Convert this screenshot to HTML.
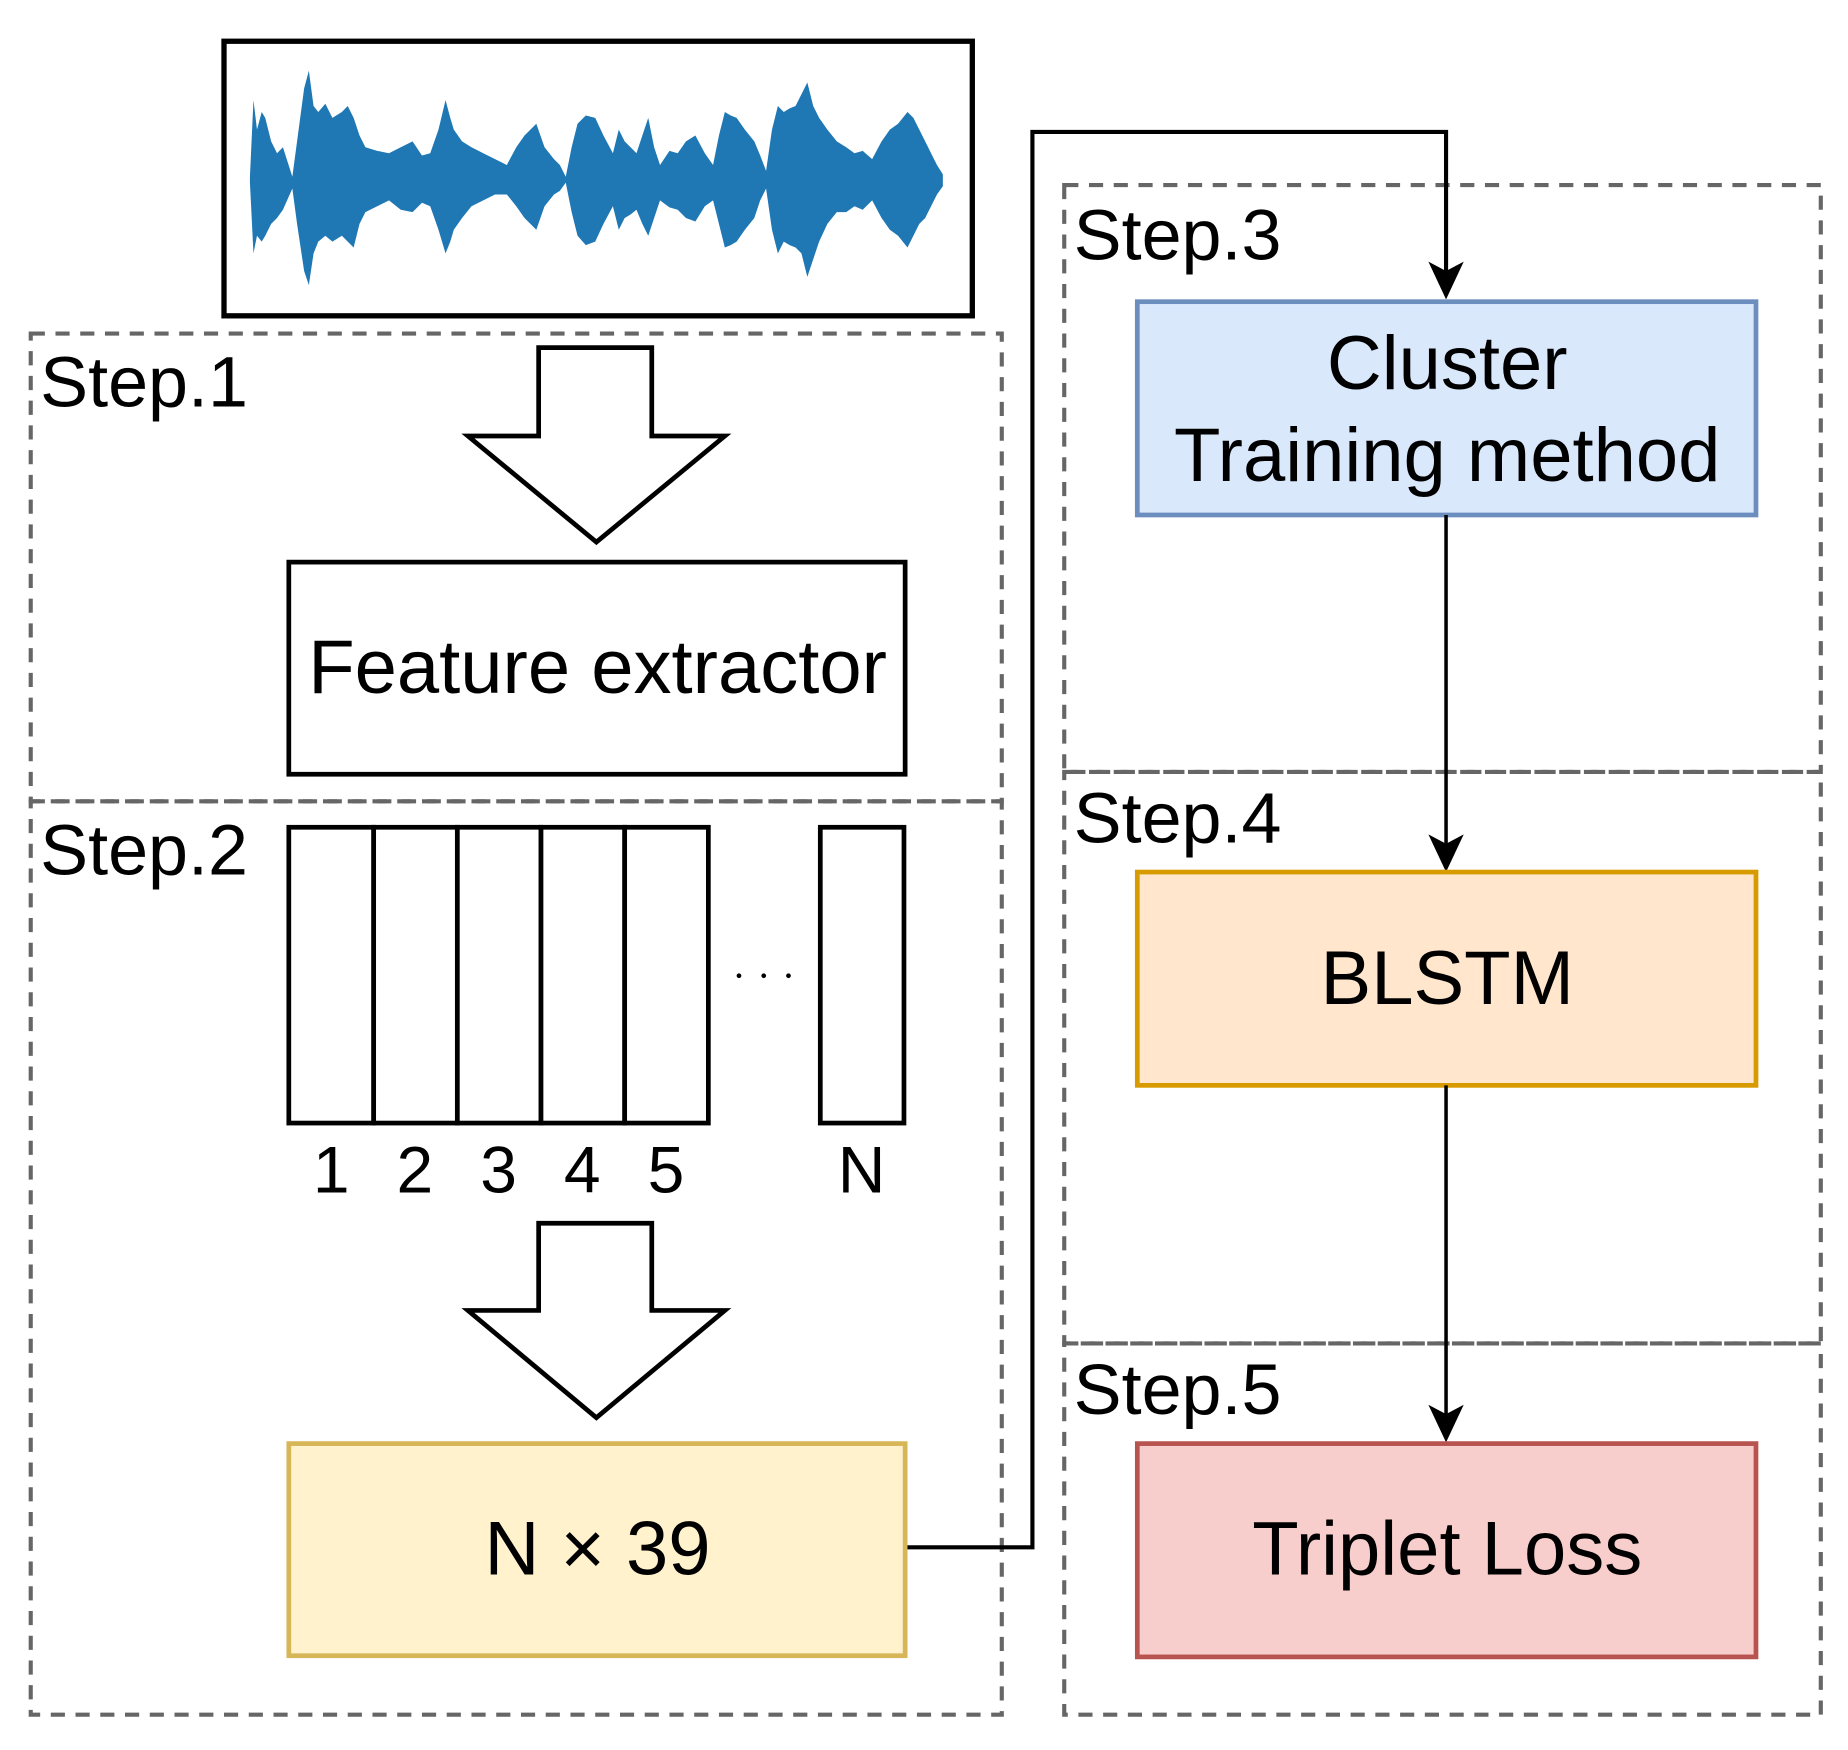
<!DOCTYPE html>
<html><head><meta charset="utf-8"><style>
html,body{margin:0;padding:0;background:#fff;}
svg{display:block;}
text{font-family:"Liberation Sans",Arial,sans-serif;fill:#000;}
</style></head><body>
<svg width="1848" height="1750" viewBox="0 0 1568 1485" xmlns="http://www.w3.org/2000/svg">
<g fill="none" stroke="#666" stroke-width="3.5" stroke-dasharray="12 9">
<rect x="26" y="283" width="824" height="397"/>
<rect x="26" y="680" width="824" height="775"/>
<rect x="903" y="157" width="642" height="498"/>
<rect x="903" y="655" width="642" height="485"/>
<rect x="903" y="1140" width="642" height="315"/>
</g>
<rect x="190" y="35" width="635" height="233" fill="#fff" stroke="#000" stroke-width="4.5"/>
<path fill="#1f77b4" d="M212,150 L215,85 L218,110 L222,95 L225,100 L230,120 L235,130 L240,125 L248,150 L252,120 L258,75 L262,60 L266,90 L270,95 L276,88 L282,100 L290,95 L295,90 L300,100 L305,115 L310,125 L320,128 L330,130 L340,125 L350,120 L358,132 L365,130 L372,110 L378,85 L382,100 L385,110 L392,120 L400,125 L410,130 L420,135 L430,140 L438,125 L445,115 L450,110 L455,105 L462,125 L470,135 L475,140 L480,150 L485,125 L490,105 L497,98 L505,100 L512,115 L520,130 L525,110 L530,120 L535,125 L540,130 L545,115 L550,100 L555,125 L560,140 L568,128 L575,130 L582,120 L590,115 L598,130 L605,140 L610,115 L615,95 L620,98 L625,100 L632,110 L640,120 L645,132 L650,145 L655,110 L660,90 L665,95 L670,92 L675,90 L680,80 L685,70 L690,90 L695,100 L702,110 L710,120 L718,125 L725,130 L732,128 L740,135 L748,120 L755,110 L762,105 L770,95 L775,100 L780,110 L785,120 L790,130 L795,140 L800,148
L800,158 L795,165 L790,175 L785,185 L780,190 L775,200 L770,210 L762,200 L755,195 L748,185 L740,170 L732,178 L725,175 L718,180 L710,180 L702,190 L695,205 L690,220 L685,235 L680,215 L675,210 L670,208 L665,205 L660,215 L655,195 L650,160 L645,170 L640,185 L632,195 L625,205 L620,208 L615,210 L610,190 L605,170 L598,175 L590,188 L582,185 L575,178 L568,176 L560,170 L555,185 L550,200 L545,190 L540,178 L535,182 L530,185 L525,195 L520,175 L512,190 L505,205 L497,208 L490,200 L485,180 L480,155 L475,162 L470,165 L462,175 L455,195 L450,190 L445,185 L438,175 L430,165 L420,165 L410,170 L400,175 L392,185 L385,195 L382,205 L378,215 L372,195 L365,175 L358,172 L350,180 L340,178 L330,170 L320,175 L310,180 L305,190 L300,210 L295,205 L290,200 L282,205 L276,200 L270,205 L266,215 L262,242 L258,230 L252,190 L248,160 L240,178 L235,185 L230,190 L225,200 L222,205 L218,200 L215,215 L212,155 Z"/>
<path d="M457,295 L553,295 L553,370 L615,370 L506,460 L397,370 L457,370 Z" fill="#fff" stroke="#000" stroke-width="4"/>
<path d="M457,1038 L553,1038 L553,1112 L615,1112 L506,1203 L397,1112 L457,1112 Z" fill="#fff" stroke="#000" stroke-width="4"/>
<rect x="245" y="477" width="523" height="180" fill="#fff" stroke="#000" stroke-width="4"/>
<text x="507" y="588" font-size="64.5" text-anchor="middle">Feature extractor</text>
<g fill="#fff" stroke="#000" stroke-width="4">
<rect x="245" y="702" width="72" height="251"/>
<rect x="317" y="702" width="71" height="251"/>
<rect x="388" y="702" width="71" height="251"/>
<rect x="459" y="702" width="71" height="251"/>
<rect x="530" y="702" width="71" height="251"/>
<rect x="696" y="702" width="71" height="251"/>
</g>
<g fill="#000"><circle cx="627" cy="828" r="2"/><circle cx="648" cy="828" r="2"/><circle cx="669" cy="828" r="2"/></g>
<g font-size="56" text-anchor="middle">
<text x="281" y="1012">1</text><text x="352" y="1012">2</text><text x="423" y="1012">3</text><text x="494" y="1012">4</text><text x="565" y="1012">5</text><text x="731" y="1012">N</text>
</g>
<rect x="245" y="1225" width="523" height="180" fill="#fff2cc" stroke="#d6b656" stroke-width="4"/>
<text x="507" y="1336" font-size="64.5" text-anchor="middle">N × 39</text>
<path d="M770,1313 L876,1313 L876,112 L1227,112 L1227,230" fill="none" stroke="#000" stroke-width="3.5"/>
<path d="M1227,254 L1212,222 L1227,230 L1242,222 Z" fill="#000"/>
<rect x="965" y="256" width="525" height="181" fill="#dae8fc" stroke="#6c8ebf" stroke-width="4"/>
<text x="1228" y="330" font-size="64.5" text-anchor="middle">Cluster</text>
<text x="1228" y="408" font-size="64.5" text-anchor="middle">Training method</text>
<path d="M1227,437 L1227,716" stroke="#000" stroke-width="3"/>
<path d="M1227,740 L1212,708 L1227,716 L1242,708 Z" fill="#000"/>
<rect x="965" y="740" width="525" height="181" fill="#ffe6cc" stroke="#d79b00" stroke-width="4"/>
<text x="1228" y="852" font-size="64.5" text-anchor="middle">BLSTM</text>
<path d="M1227,921 L1227,1200" stroke="#000" stroke-width="3"/>
<path d="M1227,1224 L1212,1192 L1227,1200 L1242,1192 Z" fill="#000"/>
<rect x="965" y="1225" width="525" height="181" fill="#f8cecc" stroke="#b85450" stroke-width="4"/>
<text x="1228" y="1336" font-size="64.5" text-anchor="middle">Triplet Loss</text>
<g font-size="61">
<text x="34" y="345">Step.1</text>
<text x="34" y="742">Step.2</text>
<text x="911" y="220">Step.3</text>
<text x="911" y="715">Step.4</text>
<text x="911" y="1200">Step.5</text>
</g>
</svg>
</body></html>
